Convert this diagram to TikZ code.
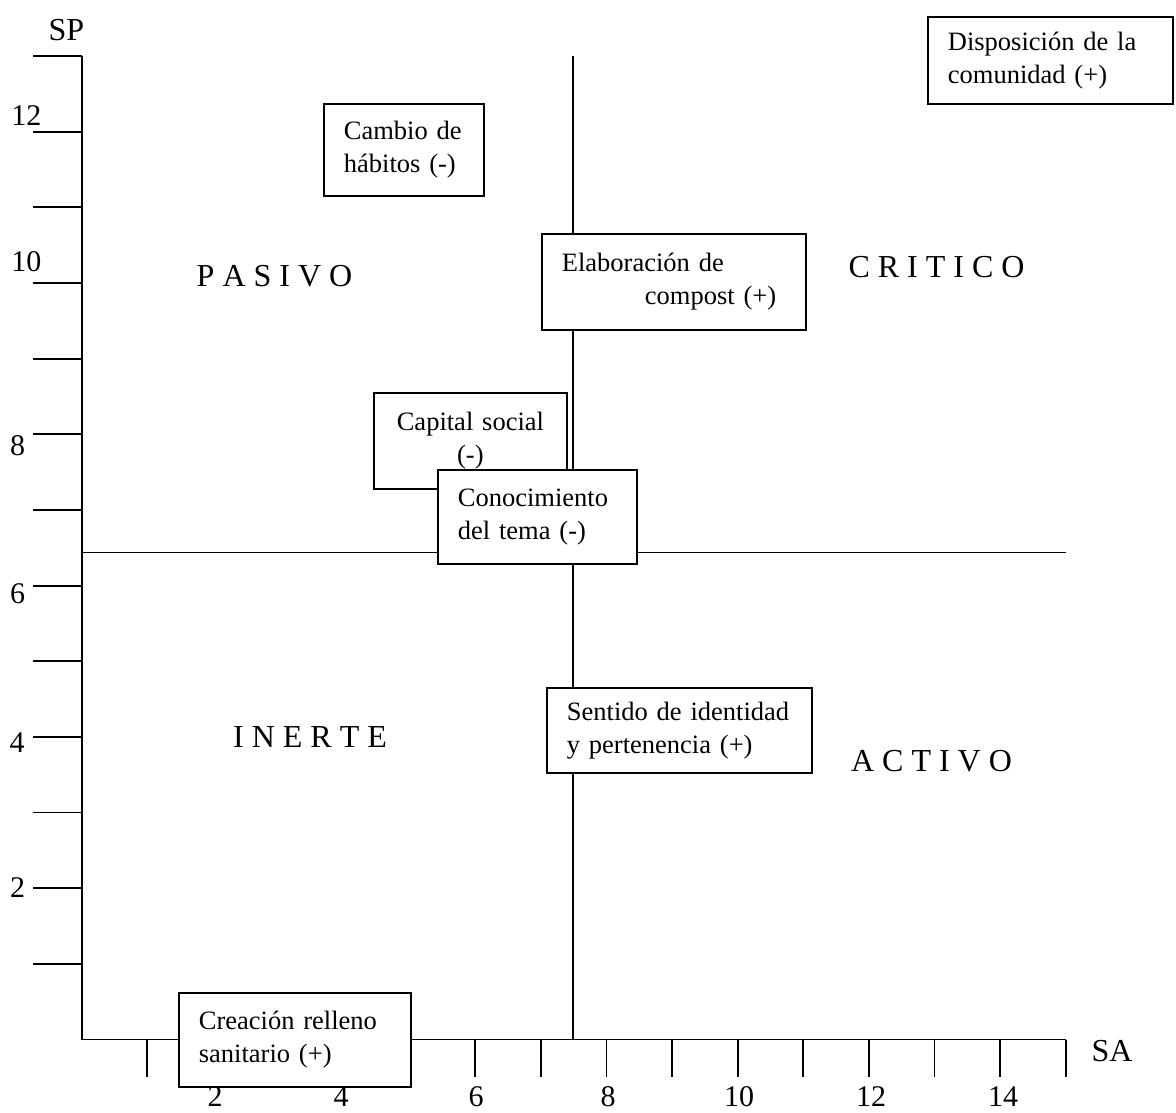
\documentclass[tikz,border=0pt]{standalone}
\usepackage{fontspec}
\setmainfont{Liberation Serif}
\begin{document}
\begin{tikzpicture}[x=1pt,y=-1pt,
  ln/.style={line width=1.8pt},
  lbl/.style={inner sep=0pt,font=\fontsize{30}{36}\selectfont},
  quad/.style={inner sep=0pt,font=\fontsize{32}{38}\selectfont},
  box/.style={draw,line width=1.8pt,fill=white,inner xsep=20pt,inner ysep=0pt,
    font=\fontsize{26.5}{33}\selectfont,align=left,anchor=north west},
]
\useasboundingbox (0,0) rectangle (1176,1112);

% axes
\coordinate (O) at (81.7,1039.5);
\coordinate (Ytop) at (81.7,56);
\coordinate (Xend) at (1065.7,1039.5);
\draw[ln] (Ytop) -- (O) -- (Xend);
\foreach \k in {1,...,13} \draw[ln] (33,1039.5-75.65*\k) -- (81.7,1039.5-75.65*\k);
\foreach \k in {1,...,15} \draw[ln] (81.7+65.6*\k,1039.5) -- (81.7+65.6*\k,1077);

% dividers
\coordinate (H1) at (81.7,552.5);
\coordinate (H2) at (1065.7,552.5);
\coordinate (V1) at (573,56);
\coordinate (V2) at (573,1039.5);
\draw[ln] (H1) -- (H2);
\draw[ln] (V1) -- (V2);

% axis labels
\node[quad] (sp) at (66.5,30) {SP};
\node[quad] (sa) at (1112,1051) {SA};
\node[lbl] (y12) at (26.5,116) {12};
\node[lbl] (y10) at (26.5,262) {10};
\node[lbl] (y8) at (17.5,446) {8};
\node[lbl] (y6) at (17.5,594) {6};
\node[lbl] (y4) at (17,743) {4};
\node[lbl] (y2) at (17.5,888) {2};
\node[lbl] (x2) at (215,1097) {2};
\node[lbl] (x4) at (341,1097) {4};
\node[lbl] (x6) at (476,1097) {6};
\node[lbl] (x8) at (608,1097) {8};
\node[lbl] (x10) at (739,1097) {10};
\node[lbl] (x12) at (871,1097) {12};
\node[lbl] (x14) at (1003,1097) {14};

% quadrant labels
\node[quad] (pasivo) at (274.5,276.5) {P A S I V O};
\node[quad] (critico) at (936.5,267) {C R I T I C O};
\node[quad] (inerte) at (310,737) {I N E R T E};
\node[quad] (activo) at (931.5,761) {A C T I V O};

% boxes
\node[box,text width=205pt,minimum height=87pt] (disp) at (927,16)
  {Disposición~de~la\\comunidad~(+)};
\node[box,text width=120pt,minimum height=92pt] (cambio) at (323,103)
  {Cambio~de\\hábitos~(-)};
\node[box,text width=224pt,minimum height=96pt] (elab) at (541,233)
  {Elaboración~de\\\hspace*{83pt}compost~(+)};
\node[box,text width=153pt,minimum height=96pt,align=center] (capital) at (373,392)
  {Capital~social\\(-)};
\node[box,text width=159pt,minimum height=94pt] (conoc) at (437,469)
  {Conocimiento\\del~tema~(-)};
\node[box,text width=225pt,minimum height=85pt] (sentido) at (546,687)
  {Sentido~de~identidad\\y~pertenencia~(+)};
\node[box,text width=192pt,minimum height=94pt] (relleno) at (178,992)
  {Creación~relleno\\sanitario~(+)};
\end{tikzpicture}
\end{document}
